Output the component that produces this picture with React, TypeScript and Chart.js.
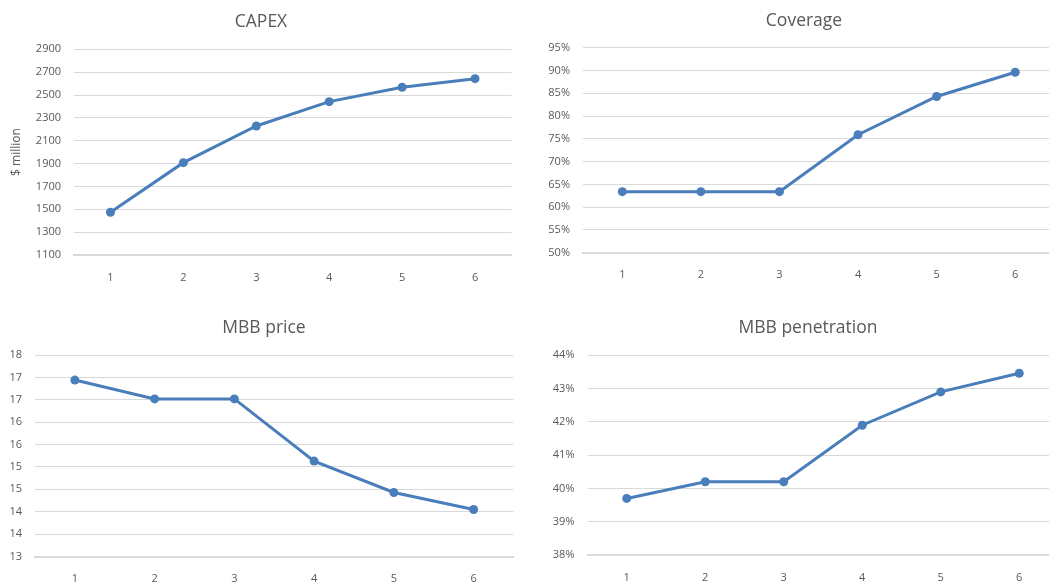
import React, { useEffect, useRef } from "react";
import { Chart, registerables } from "chart.js";

Chart.register(...registerables);

// ---------- data ----------
const xLabels = ["1", "2", "3", "4", "5", "6"];
const capexValues = [1474, 1908, 2229, 2442, 2568, 2643];
const coverageValues = [63.4, 63.4, 63.4, 75.9, 84.3, 89.6];
const mbbPriceValues = [16.94, 16.52, 16.52, 15.13, 14.43, 14.05];
const mbbPenetrationValues = [39.7, 40.2, 40.2, 41.9, 42.9, 43.46];

const titles = ["CAPEX", "Coverage", "MBB price", "MBB penetration"];
const capexAxisTitle = "$ million";

const FONT = "'Open Sans', 'Liberation Sans', sans-serif";
const TEXT = "#595959";
const GRID = "#d9d9d9";
const LINE = "#4a7ebb";

type Spec = {
  title: string;
  values: number[];
  min: number;
  max: number;
  step: number;
  fmt: (v: number) => string;
  x0: number;
  y0: number;
  plotLeft: number;
  plotRight: number;
  plotTop: number;
  plotBottom: number;
  canvasH: number;
  titleX: number;
  titleY: number;
  axisTitle?: string;
};

const specs: Spec[] = [
  {
    title: titles[0], values: capexValues, min: 1100, max: 2900, step: 200,
    fmt: (v) => String(Math.round(v)),
    x0: 0, y0: 0, plotLeft: 74, plotRight: 516, plotTop: 49.3, plotBottom: 255,
    canvasH: 290, titleX: 261, titleY: 22, axisTitle: capexAxisTitle,
  },
  {
    title: titles[1], values: coverageValues, min: 50, max: 95, step: 5,
    fmt: (v) => `${Math.round(v)}%`,
    x0: 525, y0: 0, plotLeft: 583, plotRight: 1059, plotTop: 47.7, plotBottom: 252.7,
    canvasH: 290, titleX: 804, titleY: 21,
  },
  {
    title: titles[2], values: mbbPriceValues, min: 13, max: 17.5, step: 0.5,
    fmt: (v) => String(Math.round(v)),
    x0: 0, y0: 290, plotLeft: 35, plotRight: 517.5, plotTop: 355, plotBottom: 556.5,
    canvasH: 292, titleX: 264, titleY: 328,
  },
  {
    title: titles[3], values: mbbPenetrationValues, min: 38, max: 44, step: 1,
    fmt: (v) => `${Math.round(v)}%`,
    x0: 525, y0: 290, plotLeft: 587.5, plotRight: 1063, plotTop: 355.3, plotBottom: 555,
    canvasH: 292, titleX: 808, titleY: 328,
  },
];

function LineChart({ spec }: { spec: Spec }) {
  const ref = useRef<HTMLCanvasElement | null>(null);
  const cw = Math.ceil(spec.plotRight - spec.x0);
  const ch = spec.canvasH;

  useEffect(() => {
    if (!ref.current) return;
    const yW = spec.plotLeft - spec.x0;
    const topPad = spec.plotTop - spec.y0;
    const xH = ch - (spec.plotBottom - spec.y0);
    const rightPad = cw - (spec.plotRight - spec.x0);

    const textPlugin = {
      id: "customText",
      afterDraw(chart: any) {
        const ctx = chart.ctx;
        ctx.save();
        ctx.fillStyle = TEXT;
        ctx.textAlign = "center";
        ctx.textBaseline = "middle";
        ctx.font = `17.5px ${FONT}`;
        ctx.fillText(spec.title, spec.titleX - spec.x0, spec.titleY - spec.y0);
        if (spec.axisTitle) {
          ctx.font = `12px ${FONT}`;
          ctx.translate(17 - spec.x0, 152 - spec.y0);
          ctx.rotate(-Math.PI / 2);
          ctx.fillText(spec.axisTitle, 0, 0);
        }
        ctx.restore();
      },
    };

    const chart = new Chart(ref.current, {
      type: "line",
      data: {
        labels: xLabels,
        datasets: [
          {
            data: spec.values,
            borderColor: LINE,
            backgroundColor: LINE,
            borderWidth: 3,
            pointRadius: 4.5,
            pointBackgroundColor: LINE,
            pointBorderWidth: 0,
            tension: 0,
            fill: false,
          },
        ],
      },
      options: {
        animation: false,
        responsive: false,
        devicePixelRatio: 1,
        layout: { padding: { left: 0, right: rightPad, top: topPad, bottom: 0 } },
        plugins: {
          legend: { display: false },
          title: { display: false },
          tooltip: { enabled: false },
        },
        scales: {
          x: {
            type: "category",
            offset: true,
            grid: { display: false, drawTicks: false },
            border: { display: true, color: GRID, width: 2 },
            ticks: { font: { family: FONT, size: 11 }, color: TEXT, padding: 16, maxRotation: 0 },
            afterFit: (s: any) => { s.height = xH; },
          },
          y: {
            min: spec.min,
            max: spec.max,
            grid: { color: GRID, lineWidth: 1, drawTicks: false },
            border: { display: false },
            ticks: {
              stepSize: spec.step,
              font: { family: FONT, size: 11 },
              color: TEXT,
              padding: 13,
              callback: (v: any) => spec.fmt(Number(v)),
            },
            afterFit: (s: any) => { s.width = yW; },
          },
        },
      },
      plugins: [textPlugin],
    });
    return () => chart.destroy();
  }, [spec]);

  return (
    <canvas
      ref={ref}
      width={cw}
      height={ch}
      style={{ position: "absolute", left: spec.x0, top: spec.y0, width: cw, height: ch }}
    />
  );
}

export default function App() {
  return (
    <div
      style={{
        position: "fixed",
        left: 0,
        top: 0,
        width: 1049,
        height: 582,
        overflow: "hidden",
        background: "#ffffff",
      }}
    >
      {specs.map((s, i) => (
        <LineChart key={i} spec={s} />
      ))}
    </div>
  );
}
